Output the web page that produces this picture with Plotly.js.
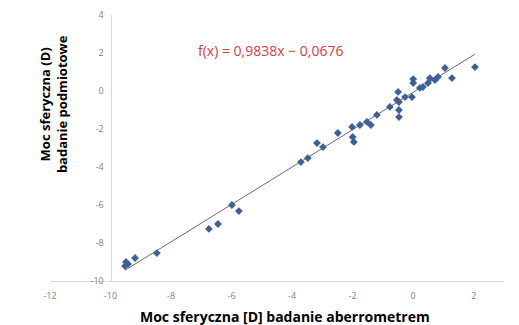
<!DOCTYPE html>
<html>
<head>
<meta charset="utf-8">
<script src="https://cdn.plot.ly/plotly-3.0.1.min.js"></script>
<style>html,body{margin:0;padding:0;background:#fff;}#chart{width:519px;height:325px;}</style>
</head>
<body>
<div id="chart"></div>
<script>
// Aberrometer sphere (x) vs subjective refraction sphere (y), diopters
const xAberrometer = [-9.52, -9.42, -9.49, -9.19, -8.47, -6.75, -6.45, -5.99, -5.76, -3.71,
  -3.48, -3.18, -2.98, -2.49, -2.00, -1.96, -2.02, -1.76, -1.53, -1.40,
  -1.20, -0.77, -0.54, -0.50, -0.47, -0.47, -0.47, -0.27, -0.04, 0.00,
  0.00, 0.22, 0.32, 0.49, 0.55, 0.72, 0.82, 1.05, 1.28, 2.04];
const ySubjective = [-9.21, -9.11, -9.00, -8.79, -8.53, -7.26, -7.00, -6.00, -6.32, -3.74,
  -3.53, -2.74, -2.95, -2.21, -2.42, -2.68, -1.89, -1.79, -1.63, -1.79,
  -1.26, -0.84, -0.47, -0.05, -0.58, -1.00, -1.37, -0.32, -0.32, 0.42,
  0.63, 0.16, 0.21, 0.42, 0.68, 0.58, 0.74, 1.21, 0.68, 1.26];
const trendSlope = 0.9838;
const trendIntercept = -0.0676;
const trendLabel = "f(x) = 0,9838x − 0,0676";
const xTicks = [-12, -10, -8, -6, -4, -2, 0, 2];
const yTicks = [-10, -8, -6, -4, -2, 0, 2, 4];
const xTitle = "Moc sferyczna [D] badanie aberrometrem";
const yTitle = "Moc sferyczna (D)<br>badanie podmiotowe";

const xMin = Math.min(...xAberrometer), xMax = Math.max(...xAberrometer);
const trendX = [xMin, xMax];
const trendY = trendX.map(v => trendSlope * v + trendIntercept);

const font = "Open Sans, Liberation Sans, Arial, sans-serif";
const data = [
  {x: trendX, y: trendY, type: 'scatter', mode: 'lines',
   line: {color: '#6a6a6a', width: 1}, hoverinfo: 'skip'},
  {x: xAberrometer, y: ySubjective, type: 'scatter', mode: 'markers',
   marker: {symbol: 'diamond', size: 6, color: '#3f5f98'}}
];
const layout = {
  width: 519, height: 325,
  margin: {l: 50, r: 15, t: 15, b: 44},
  paper_bgcolor: '#fff', plot_bgcolor: '#fff',
  showlegend: false,
  xaxis: {range: [-12, 3], tickvals: xTicks, ticktext: xTicks.map(String),
    showgrid: false, zeroline: false, showline: true, linecolor: '#d9d9d9', linewidth: 1,
    ticks: 'outside', ticklen: 6, tickcolor: 'rgba(0,0,0,0)',
    tickfont: {family: font, size: 9, color: '#7f7f7f'}},
  yaxis: {range: [-10, 4], tickvals: yTicks, ticktext: yTicks.map(String),
    anchor: 'free', position: 2/15,
    showgrid: false, zeroline: false, showline: true, linecolor: '#d9d9d9', linewidth: 1,
    ticks: 'outside', ticklen: 5, tickcolor: 'rgba(0,0,0,0)',
    tickfont: {family: font, size: 9, color: '#7f7f7f'}},
  annotations: [
    {text: trendLabel, xref: 'paper', yref: 'paper', x: 0.485, y: 0.868,
     xanchor: 'center', yanchor: 'middle',
     showarrow: false, font: {family: font, size: 14, color: '#d0414a'}},
    {text: '<b>' + xTitle + '</b>', xref: 'paper', yref: 'paper', x: 0.518, y: -0.132,
     xanchor: 'center', yanchor: 'middle',
     showarrow: false, font: {family: font, size: 14, color: '#000'}},
    {text: '<b>' + yTitle + '</b>', xref: 'paper', yref: 'paper', x: 0.0066, y: 0.665,
     xanchor: 'center', yanchor: 'middle',
     textangle: -90, showarrow: false, font: {family: font, size: 13, color: '#000'}}
  ]
};
Plotly.newPlot('chart', data, layout, {displayModeBar: false, staticPlot: true});
</script>
</body>
</html>
